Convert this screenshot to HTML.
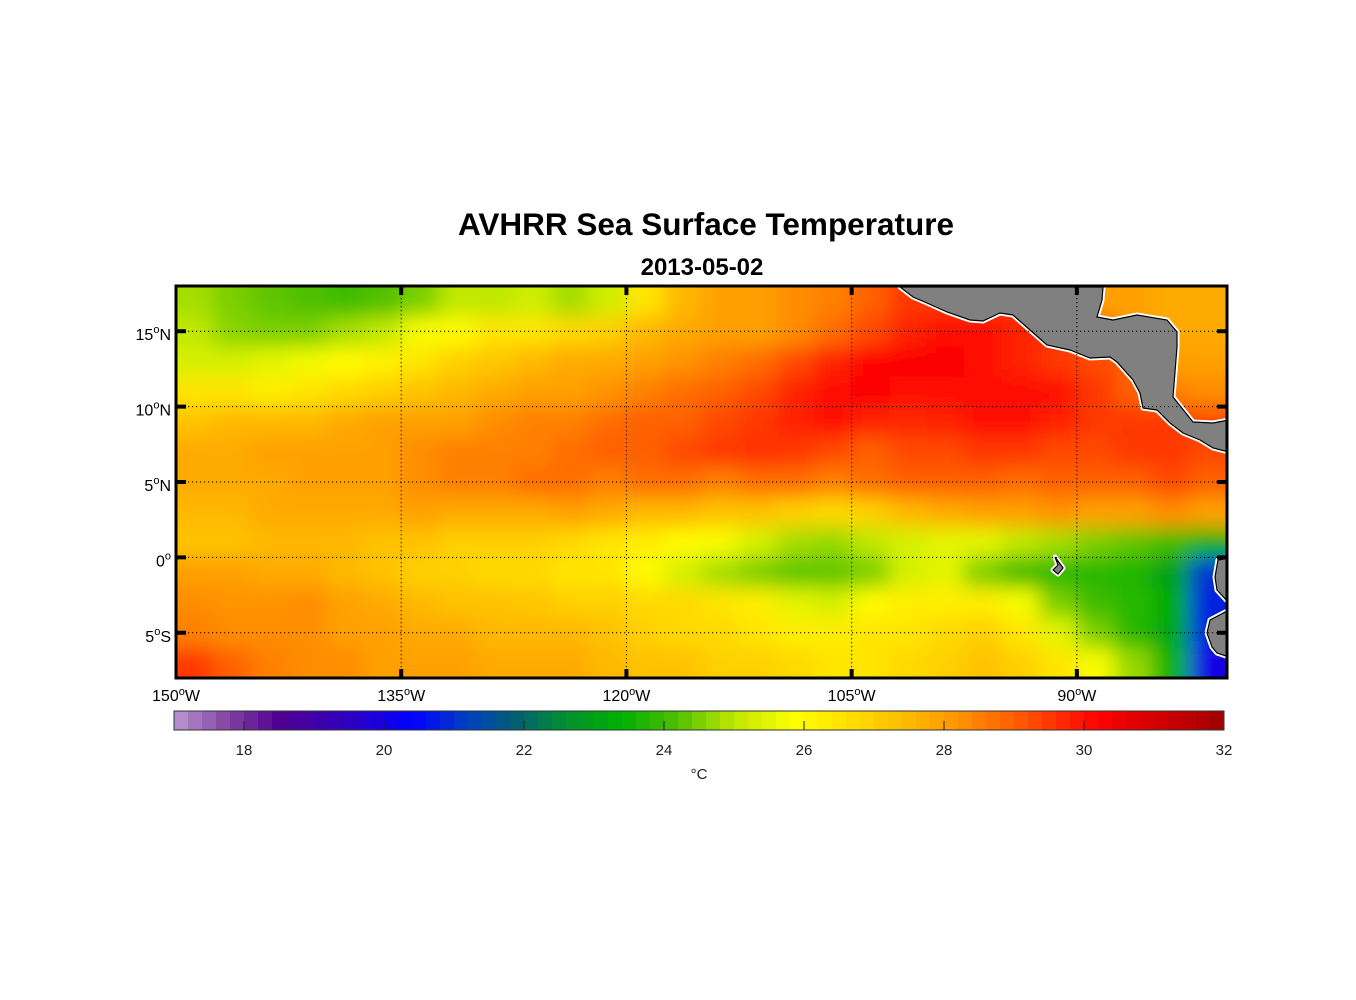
<!DOCTYPE html>
<html><head><meta charset="utf-8"><style>
html,body{margin:0;padding:0;background:#fff;}
svg{display:block;font-family:"Liberation Sans",Arial,sans-serif;}
</style></head><body>
<svg id="chart" width="1356" height="1000" viewBox="0 0 1356 1000" xmlns="http://www.w3.org/2000/svg">
<rect width="1356" height="1000" fill="#fff"/>
<text x="706" y="235" font-size="31.5" font-weight="bold" text-anchor="middle">AVHRR Sea Surface Temperature</text>
<text x="702" y="275" font-size="24" font-weight="bold" text-anchor="middle">2013-05-02</text>
<defs>
<clipPath id="frameClip"><rect x="176" y="286" width="1051" height="392"/></clipPath>
<filter id="blur" x="-10%" y="-10%" width="120%" height="120%"><feGaussianBlur stdDeviation="10"/></filter>
</defs>
<g clip-path="url(#frameClip)">
<g id="heat" filter="url(#blur)"></g>
<g id="land"></g>
</g>
<g id="grid"></g>
<rect x="176" y="286" width="1051" height="392" fill="none" stroke="#000" stroke-width="3"/>
<g id="axes"></g>
<g id="cbar"></g>
<text x="699" y="779" font-size="15" text-anchor="middle" fill="#222">°C</text>
</svg>
<script>
const lonCenters=[-148.75,-146.25,-143.75,-141.25,-138.75,-136.25,-133.75,-131.25,-128.75,-126.25,-123.75,-121.25,-118.75,-116.25,-113.75,-111.25,-108.75,-106.25,-103.75,-101.25,-98.75,-96.25,-93.75,-91.25,-88.75,-86.25,-83.75,-81.25];
const latCenters=[17,15,13,11,9,7,5,3,1,-1,-3,-5,-7];
const sst=[
[24.8,24.5,24.3,24.2,24,24.2,24.5,25,25,25.2,24.8,25.2,26.5,27.5,28,28,28.3,28.5,29,29.5,29.5,29.5,29.5,29.5,28,28,27.8,27.8],
[25,24.6,24.5,24.5,24.8,25,25.8,26,26.5,26.5,26.8,27,27.5,27.8,28,28,28.3,28.8,29.3,29.8,30,30,29.8,29.5,29,28,27.8,27.8],
[25.3,25.3,25.5,25.7,26,26.2,26.5,27,27.2,27.5,27.8,27.8,28,28.2,28.5,28.8,29.3,29.8,30.2,30.3,30.3,30,29.8,29.5,29.3,29,28,28],
[26.5,26.5,26.3,26.5,26.8,27,27.3,27.5,27.8,28,28,28.2,28.5,28.8,29,29.3,29.8,30.1,30.3,30.1,30,30.1,30.1,30,29.5,29,28.5,28.3],
[27.3,27.5,27.5,27.5,27.8,28,28,28,28.3,28.5,28.5,28.8,29,29,29.3,29.5,29.8,30,29.8,29.7,29.8,30,30,29.8,29.5,29.5,29.5,29.3],
[27.8,27.8,28,28,28,28,28.3,28.5,28.5,28.5,28.8,29,29,29.3,29.5,29.6,29.5,29.3,29,29.3,29.3,29.5,29.5,29.3,29.3,29.5,29.5,29.3],
[27.8,27.8,27.8,28,28,28,28.3,28.5,28.5,28.8,28.8,28.5,28.8,28.8,28.5,28.8,28.8,28.5,28.8,29,29,29,28.8,29,29,29,29.3,29],
[27.5,27.5,27.8,27.8,27.8,27.8,28,27.8,27.8,27.8,28,27.8,27.5,27.5,27.3,27.3,27,26.8,27,27.5,27.8,28,28,28.2,28,28,28.3,28],
[27.3,27.3,27.5,27.5,27.5,27.3,27.3,27,27,27,26.8,26.5,26.3,26,25.8,25.3,24.8,24.7,25,25.3,25.5,25.5,25,24.8,24.5,24.3,24,23.5],
[28,28,27.8,27.8,27.5,27.3,27,27,26.8,26.8,26.5,26.5,26,25.3,24.8,24.5,24.3,24.3,24.5,25.3,25.5,24.5,24,23.8,23.8,23.7,23,21],
[28.3,28.2,28.2,28.3,28,27.8,27.5,27.3,27.3,27.2,27,27,26.8,26.8,26.5,26.3,25.5,25.3,26,26.3,26.3,26.3,25.8,24.5,24,23.8,23.3,20.8],
[28.5,28.3,28.3,28.3,28,28,27.8,27.8,27.5,27.5,27.5,27.3,27,26.8,26.8,26.5,26.3,26.3,26.5,26.5,26.8,27,26.5,25.5,24.5,23.8,23.2,20.8],
[29.5,29,28.5,28.3,28.3,28,28,28,27.8,27.8,27.8,27.5,27.3,27.3,27,27,26.8,26.5,26.5,26.8,27,27.3,27,26.5,25.8,24.7,23.5,20]
];
const lonTicks=[-150,-135,-120,-105,-90];
const lonTickLabels=["150","135","120","105","90"];
const latTicks=[15,10,5,0,-5];
const latTickLabels=["15","10","5","0","5"];
const latTickSuffix=["N","N","N","",'S'];
const cbarTicks=[18,20,22,24,26,28,30,32];
const cmapVals=[17,17.8,18.5,19.5,20.4,21.2,21.9,22.6,23.4,24.2,25,25.9,27,28,29,30.2,32];
const cmapCols=["#b898d0","#8040a0","#500090","#3000c0","#0000ff","#0040c0","#006070","#009030","#00b000","#50c000","#c0e800","#ffff00","#ffd000","#ffa000","#ff6000","#ff0000","#a00000"];

const NS="http://www.w3.org/2000/svg";
const X0=176,X1=1227,LON0=-150,LON1=-80,Y0=286,Y1=678,LAT0=18,LAT1=-8;
const xs=lon=>X0+(lon-LON0)/(LON1-LON0)*(X1-X0);
const ys=lat=>Y0+(LAT0-lat)/(LAT0-LAT1)*(Y1-Y0);
const CB0=174,CB1=1224,CV0=17,CV1=32;
const cx=v=>CB0+(v-CV0)/(CV1-CV0)*(CB1-CB0);
function hex(h){return[parseInt(h.substr(1,2),16),parseInt(h.substr(3,2),16),parseInt(h.substr(5,2),16)];}
function color(v){
  if(v<=cmapVals[0])return cmapCols[0];
  for(let i=1;i<cmapVals.length;i++){
    if(v<=cmapVals[i]){const t=(v-cmapVals[i-1])/(cmapVals[i]-cmapVals[i-1]);
      const a=hex(cmapCols[i-1]),b=hex(cmapCols[i]);
      return "rgb("+a.map((c,k)=>Math.round(c+(b[k]-c)*t)).join(",")+")";}
  }
  return cmapCols[cmapCols.length-1];
}
function mk(tag,attrs,parent){const e=document.createElementNS(NS,tag);for(const k in attrs)e.setAttribute(k,attrs[k]);parent.appendChild(e);return e;}

const heat=document.getElementById('heat');
const dLon=2.5,dLat=2;
latCenters.forEach((lat,j)=>{
  lonCenters.forEach((lon,i)=>{
    let x0=xs(lon-dLon/2),x1=xs(lon+dLon/2),y0=ys(lat+dLat/2),y1=ys(lat-dLat/2);
    if(i===0)x0-=60; if(i===lonCenters.length-1)x1+=60;
    if(j===0)y0-=60; if(j===latCenters.length-1)y1+=60;
    const r=mk('rect',{x:x0,y:y0,width:x1-x0+0.6,height:y1-y0+0.6,fill:color(sst[j][i])},heat);
    
    
  });
});

const land=document.getElementById('land');
const polys=[
 ["central-america","900,287 1103,287 1102,300 1097,317 1113,320 1137,315 1167,320 1177,332 1177,347 1173,397 1193,422 1213,423 1229,420 1229,452 1213,448 1200,440 1183,433 1170,423 1157,410 1143,408 1140,393 1133,380 1117,362 1110,357 1090,358 1070,350 1047,345 1030,330 1013,315 1000,313 983,321 970,320 947,312 927,303 913,297"],
 ["galapagos","1055,557 1063,568 1058,574 1053,570 1058,565"],
 ["south-america-north","1218,560 1229,558 1229,603 1217,590 1215,577"],
 ["south-america-south","1229,610 1210,620 1207,633 1212,647 1217,653 1229,657"]
];
polys.forEach(p=>{
  mk('polygon',{points:p[1],fill:"none",stroke:"#fff","stroke-width":5,"stroke-linejoin":"round"},land);
});
polys.forEach(p=>{
  const e=mk('polygon',{points:p[1],fill:"#808080",stroke:"#000","stroke-width":1.2},land);
  
  
});

const grid=document.getElementById('grid');
lonTicks.slice(1).forEach(l=>{
  const e=mk('line',{x1:xs(l),x2:xs(l),y1:Y0,y2:Y1,stroke:"#000","stroke-width":1,"stroke-dasharray":"1.2 2.8"},grid);
  
  
});
latTicks.forEach(l=>{
  const e=mk('line',{x1:X0,x2:X1,y1:ys(l),y2:ys(l),stroke:"#000","stroke-width":1,"stroke-dasharray":"1.2 2.8"},grid);
  
  
});

const axes=document.getElementById('axes');
lonTicks.forEach((l,i)=>{
  const x=xs(l);
  if(i>0){
    mk('line',{x1:x,x2:x,y1:Y0,y2:Y0+9,stroke:"#000","stroke-width":4},axes);
    mk('line',{x1:x,x2:x,y1:Y1-9,y2:Y1,stroke:"#000","stroke-width":4},axes);
  }
  const t=mk('text',{x:x,y:701,"font-size":16,"text-anchor":"middle"},axes);
  
  
  t.innerHTML=lonTickLabels[i]+'<tspan dy="-6" font-size="11">o</tspan><tspan dy="6">W</tspan>';
});
latTicks.forEach((l,i)=>{
  const y=ys(l);
  mk('line',{x1:X0,x2:X0+10,y1:y,y2:y,stroke:"#000","stroke-width":4},axes);
  mk('line',{x1:X1-10,x2:X1,y1:y,y2:y,stroke:"#000","stroke-width":4},axes);
  const t=mk('text',{x:171,y:y+9,"font-size":16,"text-anchor":"end"},axes);
  
  
  t.innerHTML=latTickLabels[i]+'<tspan dy="-7" font-size="11">o</tspan><tspan dy="7">'+latTickSuffix[i]+'</tspan>';
});

const cbar=document.getElementById('cbar');
const step=0.2;
for(let v=CV0;v<CV1-1e-6;v+=step){
  const r=mk('rect',{x:cx(v),y:711,width:cx(v+step)-cx(v)+0.5,height:19,fill:color(v+step/2)},cbar);
  
  
}
mk('rect',{x:CB0,y:711,width:CB1-CB0,height:19,fill:"none",stroke:"#333","stroke-width":1},cbar);
cbarTicks.forEach(v=>{
  if(v<CV1) mk('line',{x1:cx(v),x2:cx(v),y1:721,y2:730,stroke:"#222","stroke-width":1},cbar);
  const t=mk('text',{x:cx(v),y:755,"font-size":15,"text-anchor":"middle",fill:"#222"},cbar);
  
  
  t.textContent=v;
});
</script>
</body></html>
